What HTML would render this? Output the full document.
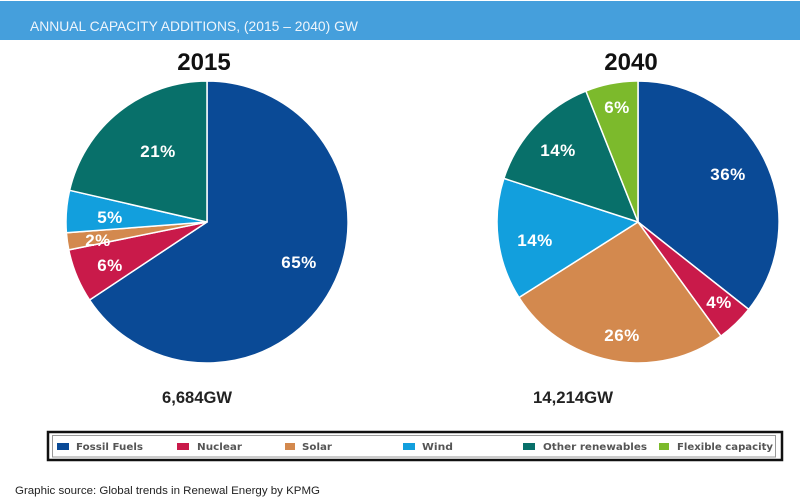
<!DOCTYPE html>
<html>
<head>
<meta charset="utf-8">
<style>
  html, body { margin: 0; padding: 0; background: #ffffff; }
  body { width: 800px; height: 499px; overflow: hidden; }
  svg { display: block; }
  .lbl { font-family: "Liberation Sans", Arial, sans-serif; font-weight: bold; font-size: 17px; fill: #ffffff; letter-spacing: 0.5px; }
  .leg { font-family: "DejaVu Sans", "Liberation Sans", sans-serif; font-weight: bold; font-size: 9.5px; fill: #555555; }
</style>
</head>
<body>
<svg width="800" height="499" viewBox="0 0 800 499" xmlns="http://www.w3.org/2000/svg">
  <rect x="0" y="0" width="800" height="499" fill="#ffffff"/>
  <!-- Header -->
  <rect x="0" y="1" width="800" height="39" fill="#459fdc"/>
  <text x="30" y="31" font-family="Liberation Sans, Arial, sans-serif" font-size="13.8" fill="#eef5fc" textLength="328" lengthAdjust="spacingAndGlyphs">ANNUAL CAPACITY ADDITIONS, (2015 – 2040) GW</text>

  <!-- Titles -->
  <text x="204" y="70" text-anchor="middle" font-family="Liberation Sans, Arial, sans-serif" font-weight="bold" font-size="24" fill="#111">2015</text>
  <text x="631" y="70" text-anchor="middle" font-family="Liberation Sans, Arial, sans-serif" font-weight="bold" font-size="24" fill="#111">2040</text>

  <!-- 2015 pie -->
  <g stroke="#ffffff" stroke-width="1.5" stroke-linejoin="round">
    <path d="M207,222 L207,81 A141,141 0 1 1 89.6,300.0 Z" fill="#0a4a96"/>
    <path d="M207,222 L89.6,300.0 A141,141 0 0 1 68.8,249.9 Z" fill="#c91a4a"/>
    <path d="M207,222 L68.8,249.9 A141,141 0 0 1 66.4,232.8 Z" fill="#d3894e"/>
    <path d="M207,222 L66.4,232.8 A141,141 0 0 1 69.6,190.3 Z" fill="#129fdd"/>
    <path d="M207,222 L69.6,190.3 A141,141 0 0 1 207,81 Z" fill="#08706a"/>
  </g>
  <text class="lbl" x="158" y="157" text-anchor="middle">21%</text>
  <text class="lbl" x="110" y="223" text-anchor="middle">5%</text>
  <text class="lbl" x="98" y="246" text-anchor="middle">2%</text>
  <text class="lbl" x="110" y="271" text-anchor="middle">6%</text>
  <text class="lbl" x="299" y="268" text-anchor="middle">65%</text>

  <!-- 2040 pie -->
  <g stroke="#ffffff" stroke-width="1.5" stroke-linejoin="round">
    <path d="M638,222 L638,81 A141,141 0 0 1 748.7,309.4 Z" fill="#0a4a96"/>
    <path d="M638,222 L748.7,309.4 A141,141 0 0 1 720.9,336.1 Z" fill="#c91a4a"/>
    <path d="M638,222 L720.9,336.1 A141,141 0 0 1 519.0,297.5 Z" fill="#d3894e"/>
    <path d="M638,222 L519.0,297.5 A141,141 0 0 1 503.9,178.4 Z" fill="#129fdd"/>
    <path d="M638,222 L503.9,178.4 A141,141 0 0 1 585.9,91.0 Z" fill="#08706a"/>
    <path d="M638,222 L585.9,91.0 A141,141 0 0 1 638,81 Z" fill="#7cba2c"/>
  </g>
  <text class="lbl" x="617" y="113" text-anchor="middle">6%</text>
  <text class="lbl" x="558" y="156" text-anchor="middle">14%</text>
  <text class="lbl" x="728" y="180" text-anchor="middle">36%</text>
  <text class="lbl" x="535" y="246" text-anchor="middle">14%</text>
  <text class="lbl" x="719" y="308" text-anchor="middle">4%</text>
  <text class="lbl" x="622" y="341" text-anchor="middle">26%</text>

  <!-- Totals -->
  <text x="162" y="403" font-family="Liberation Sans, Arial, sans-serif" font-weight="bold" font-size="17" fill="#222" textLength="70" lengthAdjust="spacingAndGlyphs">6,684GW</text>
  <text x="533" y="403" font-family="Liberation Sans, Arial, sans-serif" font-weight="bold" font-size="17" fill="#222" textLength="80" lengthAdjust="spacingAndGlyphs">14,214GW</text>

  <!-- Legend -->
  <rect x="48" y="432" width="734" height="28" fill="#ffffff" stroke="#111" stroke-width="2.5"/>
  <rect x="52.5" y="435.5" width="723" height="21.5" fill="none" stroke="#9a9a9a" stroke-width="1"/>

  <rect x="57" y="443" width="12" height="7" fill="#0a4a96"/>
  <text class="leg" x="76" y="450" textLength="67" lengthAdjust="spacingAndGlyphs">Fossil Fuels</text>
  <rect x="177" y="443" width="12" height="7" fill="#c91a4a"/>
  <text class="leg" x="197" y="450" textLength="45" lengthAdjust="spacingAndGlyphs">Nuclear</text>
  <rect x="285" y="443" width="10" height="7" fill="#d3894e"/>
  <text class="leg" x="302" y="450" textLength="30" lengthAdjust="spacingAndGlyphs">Solar</text>
  <rect x="403" y="443" width="12" height="7" fill="#129fdd"/>
  <text class="leg" x="422" y="450" textLength="31" lengthAdjust="spacingAndGlyphs">Wind</text>
  <rect x="523" y="443" width="12" height="7" fill="#08706a"/>
  <text class="leg" x="543" y="450" textLength="104" lengthAdjust="spacingAndGlyphs">Other renewables</text>
  <rect x="659" y="443" width="10" height="7" fill="#7cba2c"/>
  <text class="leg" x="677" y="450" textLength="96" lengthAdjust="spacingAndGlyphs">Flexible capacity</text>

  <!-- Source -->
  <text x="15" y="494" font-family="Liberation Sans, Arial, sans-serif" font-size="11" fill="#222" textLength="305" lengthAdjust="spacingAndGlyphs">Graphic source: Global trends in Renewal Energy by KPMG</text>
</svg>
</body>
</html>
